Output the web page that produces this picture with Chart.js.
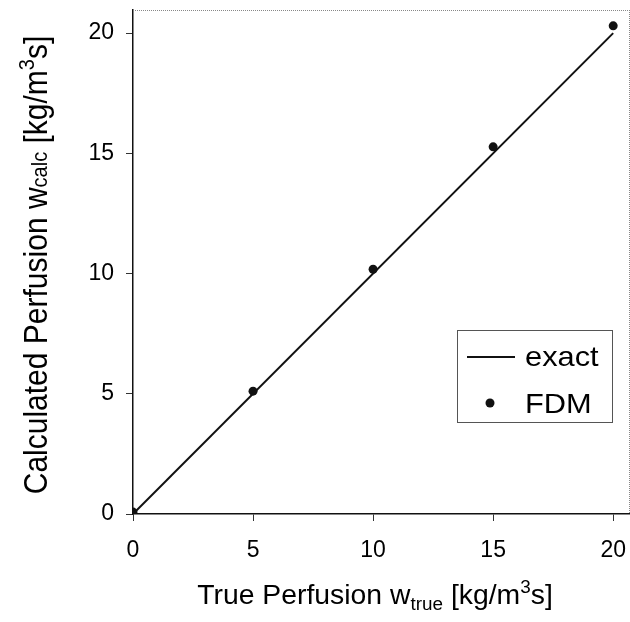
<!DOCTYPE html>
<html>
<head>
<meta charset="utf-8">
<script src="https://cdn.jsdelivr.net/npm/chart.js@4.4.0/dist/chart.umd.min.js"></script>
<style>
  html, body { margin: 0; padding: 0; background: #fff; }
  #wrap { width: 630px; height: 622px; position: relative; }
</style>
</head>
<body>
<div id="wrap"><canvas id="perfusion-chart"></canvas></div>
<script>
// data
const exactX = [0, 20];
const exactY = [0, 20];
const fdmX = [0, 5, 10, 15, 20];
const fdmY = [0.08, 5.11, 10.18, 15.27, 20.3];
const xTicks = [0, 5, 10, 15, 20];
const yTicks = [0, 5, 10, 15, 20];
const seriesLabels = ['exact', 'FDM'];

const FONT = 'Arial, "Liberation Sans", sans-serif';

// draw a string made of normal / sub / sup pieces, stretched sideways by sx
function drawRich(ctx, parts, x, y, size, sx) {
    const widths = parts.map(p => {
        ctx.font = (p.small ? Math.round(size * 0.68) : size) + 'px ' + FONT;
        return ctx.measureText(p.t).width;
    });
    const total = widths.reduce((a, b) => a + b, 0) * sx;
    ctx.save();
    ctx.translate(x - total / 2, y);
    ctx.scale(sx, 1);
    let cx = 0;
    parts.forEach((p, i) => {
        ctx.font = (p.small ? Math.round(size * 0.68) : size) + 'px ' + FONT;
        ctx.fillText(p.t, cx, p.dy || 0);
        cx += widths[i];
    });
    ctx.restore();
}

const extras = {
    id: 'extras',
    afterDraw(chart) {
        const ctx = chart.ctx;
        const a = chart.chartArea;
        ctx.save();

        // dotted top / right frame
        ctx.strokeStyle = '#888';
        ctx.lineWidth = 1;
        ctx.setLineDash([1, 1]);
        ctx.beginPath();
        ctx.moveTo(a.left, a.top + 0.5);
        ctx.lineTo(a.right, a.top + 0.5);
        ctx.moveTo(a.right - 0.5, a.top);
        ctx.lineTo(a.right - 0.5, a.bottom);
        ctx.stroke();
        ctx.setLineDash([]);

        // axis titles
        ctx.fillStyle = '#000';
        ctx.textBaseline = 'alphabetic';
        ctx.textAlign = 'left';
        drawRich(ctx, [
            { t: 'True Perfusion w' },
            { t: 'true', small: true, dy: 6 },
            { t: ' [kg/m' },
            { t: '3', small: true, dy: -11 },
            { t: 's]' }
        ], 375, 604, 27, 1.05);

        ctx.save();
        ctx.translate(47, 265);
        ctx.rotate(-Math.PI / 2);
        ctx.scale(1, 1.1);
        drawRich(ctx, [
            { t: 'Calculated Perfusion w' },
            { t: 'calc', small: true, dy: 0 },
            { t: ' [kg/m' },
            { t: '3', small: true, dy: -12 },
            { t: 's]' }
        ], 0, 0, 30, 1);
        ctx.restore();

        // legend box inside the plot
        const bx = 457, by = 330, bw = 155, bh = 92;
        ctx.fillStyle = '#fff';
        ctx.fillRect(bx, by, bw, bh);
        ctx.strokeStyle = '#555';
        ctx.lineWidth = 1;
        ctx.strokeRect(bx + 0.5, by + 0.5, bw, bh);

        const ds = chart.data.datasets;
        ctx.strokeStyle = ds[0].borderColor;
        ctx.lineWidth = ds[0].borderWidth;
        ctx.beginPath();
        ctx.moveTo(bx + 10, by + 27);
        ctx.lineTo(bx + 58, by + 27);
        ctx.stroke();

        ctx.fillStyle = ds[1].backgroundColor;
        ctx.beginPath();
        ctx.arc(bx + 33, by + 73, ds[1].pointRadius, 0, Math.PI * 2);
        ctx.fill();

        ctx.fillStyle = '#000';
        ctx.font = '28px ' + FONT;
        [ds[0].label, ds[1].label].forEach((lab, i) => {
            ctx.save();
            ctx.translate(bx + 68, by + (i ? 83 : 36));
            ctx.scale(1.1, 1);
            ctx.fillText(lab, 0, 0);
            ctx.restore();
        });

        ctx.restore();
    }
};

new Chart(document.getElementById('perfusion-chart').getContext('2d'), {
    type: 'scatter',
    data: {
        datasets: [{
            label: seriesLabels[0],
            data: exactX.map((x, i) => ({ x: x, y: exactY[i] })),
            showLine: true,
            borderColor: '#111',
            borderWidth: 2,
            pointRadius: 0,
            order: 2
        }, {
            label: seriesLabels[1],
            data: fdmX.map((x, i) => ({ x: x, y: fdmY[i] })),
            backgroundColor: '#111',
            borderColor: '#111',
            pointRadius: 4.5,
            pointBorderWidth: 0,
            order: 1
        }]
    },
    plugins: [extras],
    options: {
        responsive: true,
        maintainAspectRatio: false,
        animation: false,
        layout: { autoPadding: false, padding: { top: 10, left: 0, right: 0, bottom: 0 } },
        plugins: {
            legend: { display: false },
            tooltip: { enabled: false }
        },
        scales: {
            x: {
                type: 'linear',
                min: 0,
                max: 20.7,
                afterBuildTicks: s => { s.ticks = xTicks.map(v => ({ value: v })); },
                afterFit: s => { s.height = 108; s.paddingLeft = 0; s.paddingRight = 0; },
                grid: { drawOnChartArea: false, drawTicks: true, tickLength: 7, color: '#333', lineWidth: 1 },
                border: { display: true, color: '#111', width: 1.5 },
                ticks: { color: '#000', font: { family: FONT, size: 23 }, padding: 16, maxRotation: 0 }
            },
            y: {
                type: 'linear',
                min: 0,
                max: 20.96,
                afterBuildTicks: s => { s.ticks = yTicks.map(v => ({ value: v })); },
                afterFit: s => { s.width = 133; s.paddingTop = 0; s.paddingBottom = 0; },
                grid: { drawOnChartArea: false, drawTicks: true, tickLength: 7, color: '#333', lineWidth: 1 },
                border: { display: true, color: '#111', width: 1.5 },
                ticks: { color: '#000', font: { family: FONT, size: 23 }, padding: 12 }
            }
        }
    }
});
</script>
</body>
</html>
